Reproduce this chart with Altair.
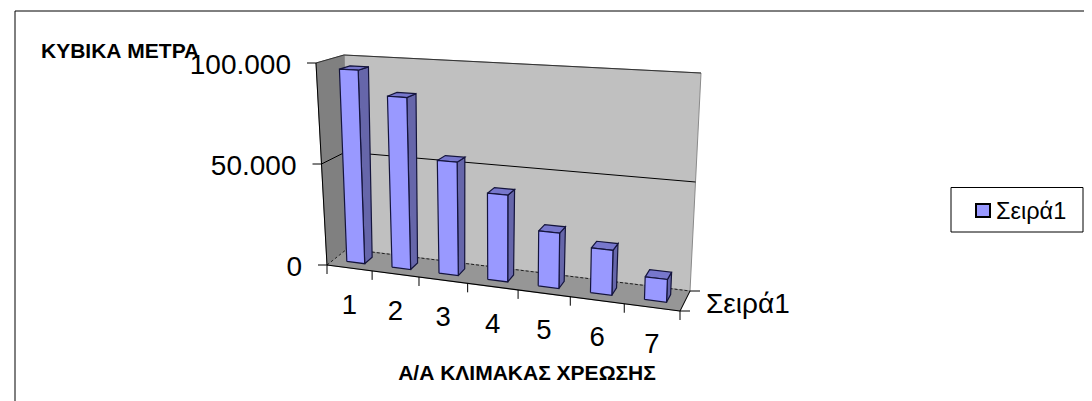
import altair as alt
import pandas as pd

# ---- values
categories = ["1", "2", "3", "4", "5", "6", "7"]
values = [96000, 84000, 54500, 41000, 25700, 20500, 10200]
y_ticks = [0, 50000, 100000]
y_tick_labels = ["0", "50.000", "100.000"]
series_name = "Σειρά1"
y_title = "ΚΥΒΙΚΑ ΜΕΤΡΑ"
x_title = "Α/Α ΚΛΙΜΑΚΑΣ ΧΡΕΩΣΗΣ"

# ---- perspective box of the 3-D plot (picture pixels)
FL0, FR0, BL0, BR0 = (327, 265), (680, 311), (347, 249), (690, 291)
FL1, FR1, BL1, BR1 = (316, 63), (688, 84), (344, 55), (701, 73)
VMAX = 100000
N = len(categories)
W, H = 1076, 393


def warp(s):
    return 0.877 * s + 0.123 * s * s


def project(cat, depth, value):
    """cat: 0..N along the axis, depth: 0 front..1 back, value in data units"""
    u = warp(cat / N)
    h = value / VMAX
    pts = []
    for k in (0, 1):
        a = FL0[k] * (1 - u) + FR0[k] * u
        b = BL0[k] * (1 - u) + BR0[k] * u
        c = FL1[k] * (1 - u) + FR1[k] * u
        e = BL1[k] * (1 - u) + BR1[k] * u
        low = a * (1 - depth) + b * depth
        high = c * (1 - depth) + e * depth
        pts.append(low * (1 - h) + high * h)
    return pts[0], pts[1]


walls, bars, segs, texts = [], [], [], []


def poly(store, name, fill, stroke, corners):
    closed = list(corners) + [corners[0]]
    for i, (c, d, v) in enumerate(closed):
        x, y = project(c, d, v)
        store.append(dict(poly=name, seq=i, x=x, y=y, fill=fill, stroke=stroke))


def seg(name, a, b, color="#000000", w=1.0, group="front", dx=(0, 0), dy=(0, 0)):
    for i, (p, ox, oy) in enumerate(((a, dx[0], dy[0]), (b, dx[1], dy[1]))):
        x, y = project(*p)
        segs.append(dict(seg=name, seq=i, x=x + ox, y=y + oy, color=color, w=w, group=group))


def txt(s, x, y, size, bold=False, align="center"):
    texts.append(dict(t=s, x=x, y=y, size=size, bold=bold, align=align))


poly(walls, "a_back", "#C0C0C0", "#8a8a8a", [(0, 1, 0), (N, 1, 0), (N, 1, VMAX), (0, 1, VMAX)])
poly(walls, "b_left", "#808080", "#808080", [(0, 0, 0), (0, 1, 0), (0, 1, VMAX), (0, 0, VMAX)])
poly(walls, "c_floor", "#969696", "#969696", [(0, 0, 0), (N, 0, 0), (N, 1, 0), (0, 1, 0)])

BAR_L, BAR_R, D0, D1 = 0.30, 0.70, 0.33, 0.72
for i, v in enumerate(values):
    l, r = i + BAR_L, i + BAR_R
    poly(bars, f"d{i}_side", "#6666AA", "#14143c", [(r, D0, 0), (r, D1, 0), (r, D1, v), (r, D0, v)])
    poly(bars, f"d{i}_top", "#7777CC", "#14143c", [(l, D0, v), (r, D0, v), (r, D1, v), (l, D1, v)])
    poly(bars, f"d{i}_front", "#9999FF", "#14143c", [(l, D0, 0), (r, D0, 0), (r, D0, v), (l, D0, v)])

# gridlines and box edges
seg("grid_back", (0, 1, 50000), (N, 1, 50000), group="back")
seg("grid_left", (0, 0, 50000), (0, 1, 50000), group="back")
seg("top_back", (0, 1, VMAX), (N, 1, VMAX), color="#333333", group="back")
seg("top_left", (0, 0, VMAX), (0, 1, VMAX), color="#333333", group="back")
seg("edge_left", (0, 0, 0), (0, 0, VMAX), group="back")
seg("floor_back", (0, 1, 0), (N, 1, 0), w=0.8, group="dash")
seg("floor_left", (0, 0, 0), (0, 1, 0), w=0.8, group="dash")
seg("floor_front", (0, 0, 0), (N, 0, 0), w=1.2)
seg("floor_right", (N, 0, 0), (N, 1, 0))
seg("tick_r0", (N, 0, 0), (N, 0, 0), dx=(0, 10))
seg("tick_r1", (N, 1, 0), (N, 1, 0), dx=(0, 10))

for k, t in enumerate(y_ticks):
    seg(f"ytick{k}", (0, 0, t), (0, 0, t), dx=(-9, 0))
    x, y = project(0, 0, t)
    txt(y_tick_labels[k], x - 25, y + 3, 28, align="right")

for i in range(N + 1):
    seg(f"xtick{i}", (i, 0, 0), (i, 0, 0), dy=(0, 9))
for i, c in enumerate(categories):
    x, y = project(i + 0.5, 0, 0)
    txt(c, x, y + 38, 27.5)

xs, ys = project(N, 1, 0)
txt(series_name, xs + 16, ys + 14, 28, align="left")
txt(y_title, 41, 52, 21, bold=True, align="left")
txt(x_title, 527, 374, 21, bold=True)

# legend
txt(series_name, 996, 212, 23.5, align="left")

df_walls = pd.DataFrame(walls)
df_bars = pd.DataFrame(bars)
df_seg = pd.DataFrame(segs)
df_txt = pd.DataFrame(texts)

X = alt.Scale(domain=[8, 8 + W], range=[0, W])
Y = alt.Scale(domain=[8, 8 + H], range=[0, H])
x_enc = alt.X("x:Q", scale=X, axis=None)
y_enc = alt.Y("y:Q", scale=Y, axis=None)


def poly_layer(df, sw):
    return alt.Chart(df).mark_line(strokeWidth=sw, strokeJoin="miter").encode(
        x=x_enc, y=y_enc, detail="poly:N", order="seq:Q",
        fill=alt.Fill("fill:N", scale=None),
        stroke=alt.Stroke("stroke:N", scale=None),
    )


def seg_layer(df, **kw):
    return alt.Chart(df).mark_line(**kw).encode(
        x=x_enc, y=y_enc, detail="seg:N", order="seq:Q",
        stroke=alt.Stroke("color:N", scale=None),
        strokeWidth=alt.StrokeWidth("w:Q", scale=None),
    )


def text_layer(sub, align, weight):
    return alt.Chart(sub).mark_text(
        font="Liberation Sans", align=align, baseline="middle", fontWeight=weight, color="#000000"
    ).encode(x=x_enc, y=y_enc, text="t:N", size=alt.Size("size:Q", scale=None))


text_layers = []
for align in ("left", "center", "right"):
    for bold in (False, True):
        sub = df_txt[(df_txt["align"] == align) & (df_txt["bold"] == bold)]
        if len(sub):
            text_layers.append(text_layer(sub, align, "bold" if bold else "normal"))

# chart frame and legend box
frame = pd.DataFrame([
    dict(k="top", x=15, y=11), dict(k="top", x=8 + W, y=11),
    dict(k="left", x=15, y=11), dict(k="left", x=15, y=8 + H),
])
frame_layer = alt.Chart(frame).mark_line(color="#000000", strokeWidth=1).encode(
    x=x_enc, y=y_enc, detail="k:N"
)
legend_box = alt.Chart(pd.DataFrame([dict(x=951, x2=1083, y=187.5, y2=232)])).mark_rect(
    fill="#ffffff", stroke="#000000", strokeWidth=1
).encode(x=x_enc, x2="x2:Q", y=y_enc, y2="y2:Q")
legend_swatch = alt.Chart(pd.DataFrame([dict(x=976, x2=990, y=204, y2=217)])).mark_rect(
    fill="#9999FF", stroke="#000000", strokeWidth=2
).encode(x=x_enc, x2="x2:Q", y=y_enc, y2="y2:Q")

chart = alt.layer(
    frame_layer,
    poly_layer(df_walls, 1),
    seg_layer(df_seg[df_seg.group == "back"]),
    seg_layer(df_seg[df_seg.group == "dash"], strokeDash=[3, 2]),
    poly_layer(df_bars, 1.2),
    seg_layer(df_seg[df_seg.group == "front"]),
    legend_box, legend_swatch, *text_layers,
).properties(
    width=W, height=H, padding=0, autosize=alt.AutoSizeParams(type="none")
).configure_view(stroke=None)

chart.save("out.html", embed_options={"renderer": "svg", "actions": False})
